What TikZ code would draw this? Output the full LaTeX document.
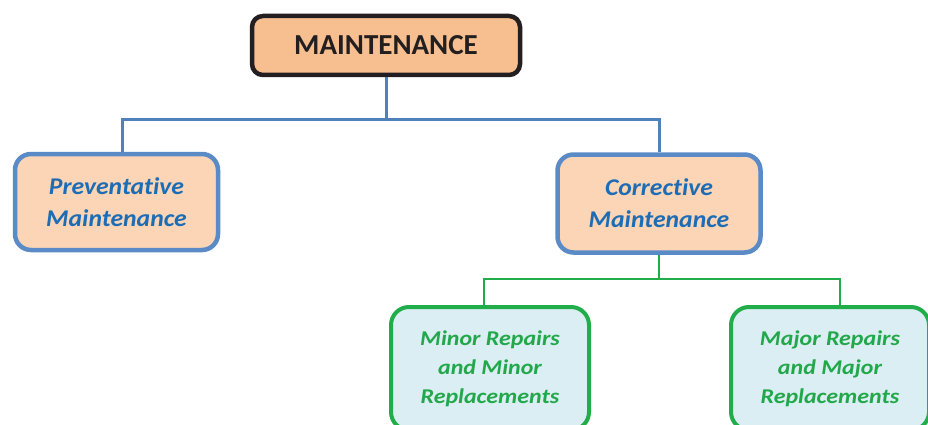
\documentclass[tikz,border=0pt]{standalone}
\usepackage{fontspec}
\setmainfont[Ligatures=NoCommon]{Carlito}
\newfontfamily\midfont[Ligatures=NoCommon, FakeStretch=1.07]{Carlito}
\newfontfamily\lowfont[Ligatures=NoCommon, FakeStretch=1.14]{Carlito}
\definecolor{topfill}{HTML}{F7BF8F}
\definecolor{topline}{HTML}{231F20}
\definecolor{midfill}{HTML}{FBD5B5}
\definecolor{midline}{HTML}{5B8BC7}
\definecolor{midtext}{HTML}{1C6DB6}
\definecolor{lowfill}{HTML}{DAEEF3}
\definecolor{lowline}{HTML}{22AD4B}
\definecolor{lowtext}{HTML}{22A84A}
\definecolor{bluewire}{HTML}{4F81BD}
\tikzset{
  topbox/.style={draw=topline, fill=topfill, line width=4.5pt, rounded corners=11pt,
    minimum width=268pt, minimum height=59pt, inner sep=0pt,
    font=\fontsize{29}{30}\selectfont\bfseries, text=topline},
  midbox/.style={draw=midline, fill=midfill, line width=4.5pt, rounded corners=16pt,
    minimum width=203pt, inner sep=0pt, align=center,
    font=\midfont\fontsize{24}{32}\selectfont\bfseries\itshape, text=midtext},
  lowbox/.style={draw=lowline, fill=lowfill, line width=4pt, rounded corners=18pt,
    minimum width=198pt, minimum height=123pt, inner sep=0pt, align=center,
    font=\lowfont\fontsize{21}{29}\selectfont\bfseries\itshape, text=lowtext},
  bluelink/.style={draw=bluewire, line width=3pt},
  greenlink/.style={draw=lowline, line width=2.5pt},
}
\begin{document}
\begin{tikzpicture}[x=1pt, y=-1pt]
  \useasboundingbox (0,0) rectangle (928,425);
  \clip (0,0) rectangle (928,425);

  % bend points of the tree
  \coordinate (jl) at (122,120);
  \coordinate (jr) at (659,120);
  \coordinate (gl) at (484,279);
  \coordinate (gr) at (840,279);

  % top level
  \node[topbox] (root) at (386,45.5) {MAINTENANCE};

  % second level
  \node[midbox, minimum height=96pt] (prev) at (116.5,202)
    {Preventative\\Maintenance};
  \node[midbox, minimum height=98pt] (corr) at (659,203.5)
    {Corrective\\Maintenance};

  % third level
  \node[lowbox] (minor) at (490,368.5)
    {Minor Repairs\\and Minor\\Replacements};
  \node[lowbox] (major) at (830,368.5)
    {Major Repairs\\and Major\\Replacements};

  % connectors
  \draw[bluelink] (root.south) |- (jl) -- (jl |- prev.north);
  \draw[bluelink] (root.south) |- (jr) -- (jr |- corr.north);
  \draw[greenlink] (corr.south) |- (gl) -- (gl |- minor.north);
  \draw[greenlink] (corr.south) |- (gr) -- (gr |- major.north);
\end{tikzpicture}
\end{document}
